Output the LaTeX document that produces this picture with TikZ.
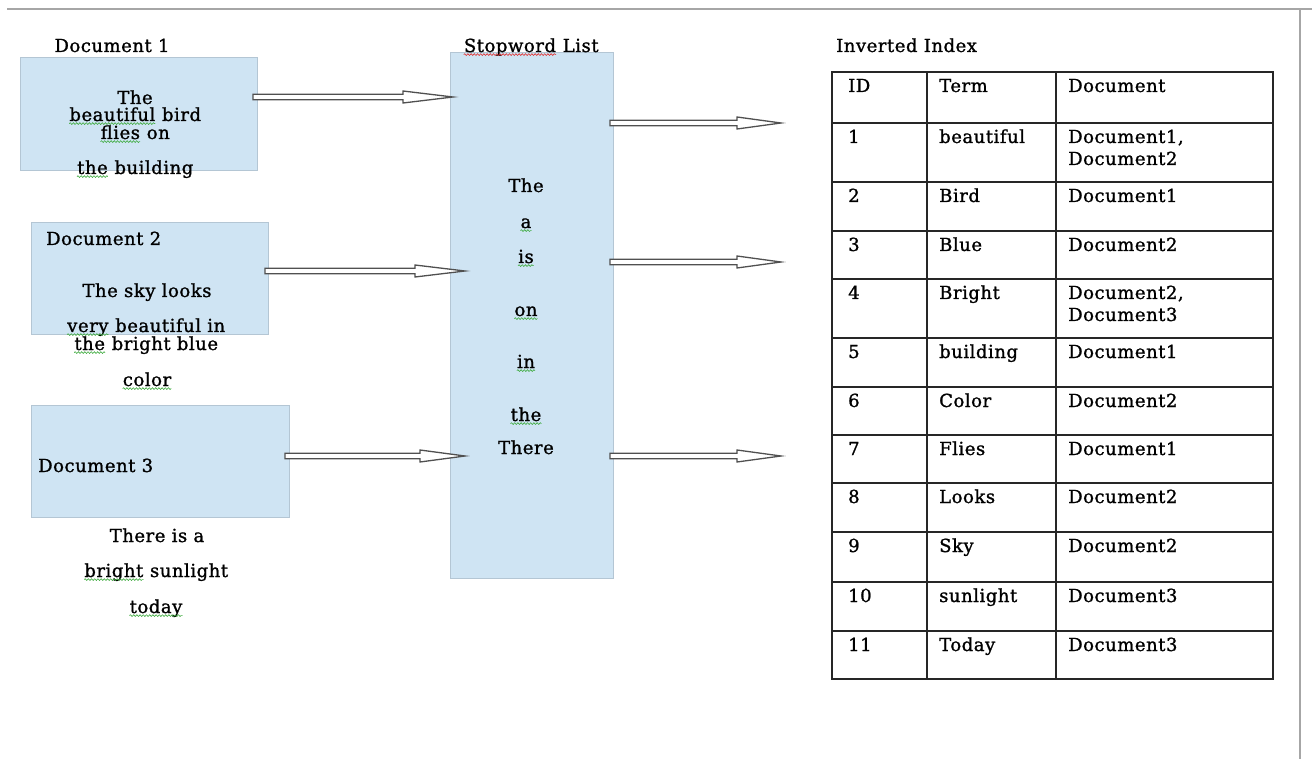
\documentclass[tikz,border=0pt]{standalone}
\usepackage{fontspec}
\setmainfont{DejaVu Serif}[FakeBold=1.2,LetterSpace=3]
\usetikzlibrary{calc,decorations.pathmorphing}
\definecolor{boxblue}{HTML}{CFE4F3}
\definecolor{boxedge}{HTML}{B4C6D4}
\definecolor{arredge}{HTML}{505050}
\definecolor{sqgreen}{HTML}{3DAA3D}
\definecolor{sqred}{HTML}{E03030}
\newcommand\sqw[2]{\tikz[baseline=(w.base)]{\node[inner sep=0pt,anchor=base] (w) at (0,0) {#2};
  \draw[#1,line width=0.6pt,decorate,decoration={snake,amplitude=0.9pt,segment length=3.2pt}]
    ([yshift=-2.6pt]w.base west) -- ([yshift=-2.6pt]w.base east);}}
\newcommand\gw[1]{\sqw{sqgreen}{#1}}
\newcommand\rw[1]{\sqw{sqred}{#1}}
\newcommand\harr[3]{%
  \draw[arrowsty] let \p1=(#1), \p2=(#2) in
    (\x1,\y1+2.7pt) -- (\x2-#3,\y1+2.7pt) -- (\x2-#3,\y1+6pt) -- (\x2,\y1)
    -- (\x2-#3,\y1-6pt) -- (\x2-#3,\y1-2.7pt) -- (\x1,\y1-2.7pt) -- cycle;}
\begin{document}
\begin{tikzpicture}[x=1pt,y=-1pt,
  font=\fontsize{18}{20}\selectfont,
  bluebox/.style={draw=boxedge,fill=boxblue,line width=1pt,inner sep=0pt},
  txt/.style={inner sep=0pt,anchor=base},
  ltxt/.style={inner sep=0pt,anchor=base west},
  arrowsty/.style={draw=arredge,fill=white,line width=1.3pt,line join=miter},
  grid/.style={draw=black!85,line width=1.3pt},
  edge/.style={draw=black!35,line width=1.8pt}]
\useasboundingbox (0,0) rectangle (1312,759);
% page edges
\draw[edge] (7,9) -- (1312,9);
\draw[edge] (1300,10) -- (1300,759);

% boxes
\node[bluebox,minimum width=237pt,minimum height=113pt] (doc1) at (138.5,114.5) {};
\node[bluebox,minimum width=237pt,minimum height=112pt] (doc2) at (149.5,279) {};
\node[bluebox,minimum width=258pt,minimum height=112pt] (doc3) at (160,461) {};
\node[bluebox,minimum width=163pt,minimum height=525pt] (stop) at (531.5,315.5) {};

% labels
\node[txt] (lab1) at (112,52) {Document 1};
\node[txt] (lab2) at (531,52) {\rw{Stopword} List};
\node[ltxt] (lab3) at (836,52) {Inverted Index};

% document 1 text
\node[txt] (d1a) at (135,104) {The};
\node[txt] (d1b) at (135,121) {\gw{beautiful} bird};
\node[txt] (d1c) at (135,139) {\gw{flies} on};
\node[txt] (d1d) at (135,174) {\gw{the} building};

% document 2 text
\node[ltxt] (d2l) at (46,245) {Document 2};
\node[txt] (d2a) at (147,297) {The sky looks};
\node[txt] (d2b) at (146,332) {\gw{very} beautiful in};
\node[txt] (d2c) at (146,350) {\gw{the} bright blue};
\node[txt] (d2d) at (147,386) {\gw{color}};

% document 3 text
\node[ltxt] (d3l) at (38,472) {Document 3};
\node[txt] (d3a) at (157,542) {There is a};
\node[txt] (d3b) at (156,577) {\gw{bright} sunlight};
\node[txt] (d3c) at (156,613) {\gw{today}};

% stopwords
\node[txt] (s1) at (526,192) {The};
\node[txt] (s2) at (526,228) {\gw{a}};
\node[txt] (s3) at (526,263) {\gw{is}};
\node[txt] (s4) at (526,316) {\gw{on}};
\node[txt] (s5) at (526,368) {\gw{in}};
\node[txt] (s6) at (526,421) {\gw{the}};
\node[txt] (s7) at (526,454) {There};

% arrows
\coordinate (a1s) at (253,97);  \coordinate (a1e) at (453,97);
\coordinate (a2s) at (265,271); \coordinate (a2e) at (465,271);
\coordinate (a3s) at (285,456); \coordinate (a3e) at (465,456);
\coordinate (r1s) at (610,123); \coordinate (r1e) at (781,123);
\coordinate (r2s) at (610,262); \coordinate (r2e) at (781,262);
\coordinate (r3s) at (610,456); \coordinate (r3e) at (781,456);
\harr{a1s}{a1e}{50pt}
\harr{a2s}{a2e}{50pt}
\harr{a3s}{a3e}{45pt}
\harr{r1s}{r1e}{44pt}
\harr{r2s}{r2e}{44pt}
\harr{r3s}{r3e}{44pt}

% table grid
\foreach \yy in {72,123,182,231,279,338,387,435,483,532,582,631,679}
  \draw[grid] (831,\yy) -- (1274,\yy);
\foreach \xx in {832,927,1056,1273}
  \draw[grid] (\xx,72) -- (\xx,679);

% table text
\foreach \id/\term/\doc/\yy [count=\i] in {
  ID/Term/Document/72,
  1/beautiful/{Document1,}/123,
  2/Bird/Document1/182,
  3/Blue/Document2/231,
  4/Bright/{Document2,}/279,
  5/building/Document1/338,
  6/Color/Document2/387,
  7/Flies/Document1/435,
  8/Looks/Document2/483,
  9/Sky/Document2/532,
  10/sunlight/Document3/582,
  11/Today/Document3/631}{
  \node[ltxt] (id\i) at (848,\yy+20) {\id};
  \node[ltxt] (tm\i) at (939,\yy+20) {\term};
  \node[ltxt] (dc\i) at (1068,\yy+20) {\doc};
}
\node[ltxt] (dc2b) at (1068,165) {Document2};
\node[ltxt] (dc5b) at (1068,321) {Document3};
\end{tikzpicture}
\end{document}
